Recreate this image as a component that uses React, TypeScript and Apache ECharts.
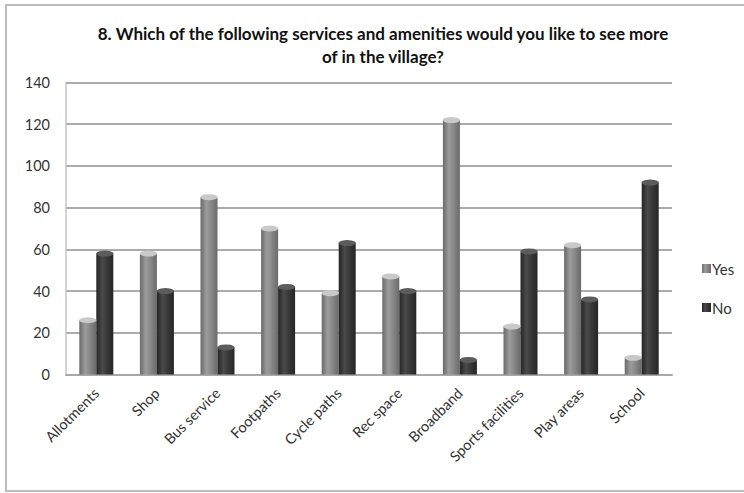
import { useEffect, useRef } from "react";
import * as echarts from "echarts";

const categories = [
  "Allotments",
  "Shop",
  "Bus service",
  "Footpaths",
  "Cycle paths",
  "Rec space",
  "Broadband",
  "Sports facilities",
  "Play areas",
  "School",
];
const yesValues = [26, 58, 85, 70, 39, 47, 122, 23, 62, 8];
const noValues = [58, 40, 13, 42, 63, 40, 7, 59, 36, 92];
const seriesNames = ["Yes", "No"];
const yMin = 0;
const yMax = 140;
const yInterval = 20;
const titleText =
  "8. Which of the following services and amenities would you like to see more\nof in the village?";

const FONT = "Lato, 'Open Sans', sans-serif";

export default function App() {
  const ref = useRef<HTMLDivElement>(null);

  useEffect(() => {
    if (!ref.current) return;
    const chart = echarts.init(ref.current, null, { renderer: "svg" });

    const grad = (edge: string, mid: string, light: string) =>
      new echarts.graphic.LinearGradient(0, 0, 1, 0, [
        { offset: 0, color: edge },
        { offset: 0.35, color: light },
        { offset: 0.6, color: mid },
        { offset: 1, color: edge },
      ]);

    const barW = 17;

    chart.setOption({
      animation: false,
      backgroundColor: "#ffffff",
      textStyle: { fontFamily: FONT },
      title: {
        text: titleText,
        left: 378,
        textAlign: "center",
        top: 17,
        textStyle: {
          fontFamily: FONT,
          fontWeight: "bold",
          fontSize: 17,
          color: "#111",
          lineHeight: 23,
        },
      },
      legend: {
        data: seriesNames,
        orient: "vertical",
        left: 697,
        top: 256,
        itemGap: 24,
        itemWidth: 9,
        itemHeight: 9,
        icon: "rect",
        textStyle: { fontFamily: FONT, fontSize: 15, color: "#333", padding: [0, 0, 0, -4] },
      },
      grid: {
        left: 66,
        right: 72,
        top: 82.5,
        bottom: 118.5,
        containLabel: false,
      },
      xAxis: {
        type: "category",
        data: categories,
        axisLine: { show: true, lineStyle: { color: "#a8a8a8", width: 2 } },
        axisTick: { show: false },
        axisLabel: {
          rotate: 45,
          interval: 0,
          margin: 16,
          fontFamily: FONT,
          fontSize: 14.5,
          color: "#333",
        },
      },
      yAxis: {
        type: "value",
        min: yMin,
        max: yMax,
        interval: yInterval,
        axisLine: { show: true, lineStyle: { color: "#c4c4c4", width: 1.5 } },
        axisTick: { show: false },
        splitLine: { show: true, lineStyle: { color: "#ababab", width: 2 } },
        axisLabel: {
          margin: 16,
          fontFamily: FONT,
          fontSize: 14.5,
          color: "#333",
        },
      },
      series: [
        {
          name: "Yes",
          type: "bar",
          data: yesValues,
          barWidth: barW,
          barGap: "0%",
          itemStyle: { color: grad("#6a6a6a", "#8a8a8a", "#9c9c9c") },
          z: 2,
        },
        {
          name: "No",
          type: "bar",
          data: noValues,
          barWidth: barW,
          barGap: "0%",
          itemStyle: { color: grad("#252525", "#3a3a3a", "#4a4a4a") },
          z: 2,
        },
        {
          name: "Yes cap",
          type: "pictorialBar",
          data: yesValues,
          symbol: "circle",
          symbolSize: [barW, 6],
          symbolPosition: "end",
          symbolOffset: [0, "-50%"],
          barWidth: barW,
          barGap: "0%",
          itemStyle: { color: "#c9c9c9" },
          z: 3,
        },
        {
          name: "No cap",
          type: "pictorialBar",
          data: noValues,
          symbol: "circle",
          symbolSize: [barW, 6],
          symbolPosition: "end",
          symbolOffset: [0, "-50%"],
          barWidth: barW,
          barGap: "0%",
          itemStyle: { color: "#5c5c5c" },
          z: 3,
        },
      ],
      graphic: [
        {
          type: "rect",
          shape: { x: 6, y: 5, width: 760, height: 486 },
          style: { fill: "none", stroke: "#bdbdbd", lineWidth: 2 },
          silent: true,
          z: -1,
        },
      ],
    });

    return () => chart.dispose();
  }, []);

  return (
    <div
      ref={ref}
      style={{ position: "fixed", left: 0, top: 0, width: 744, height: 493 }}
    />
  );
}
